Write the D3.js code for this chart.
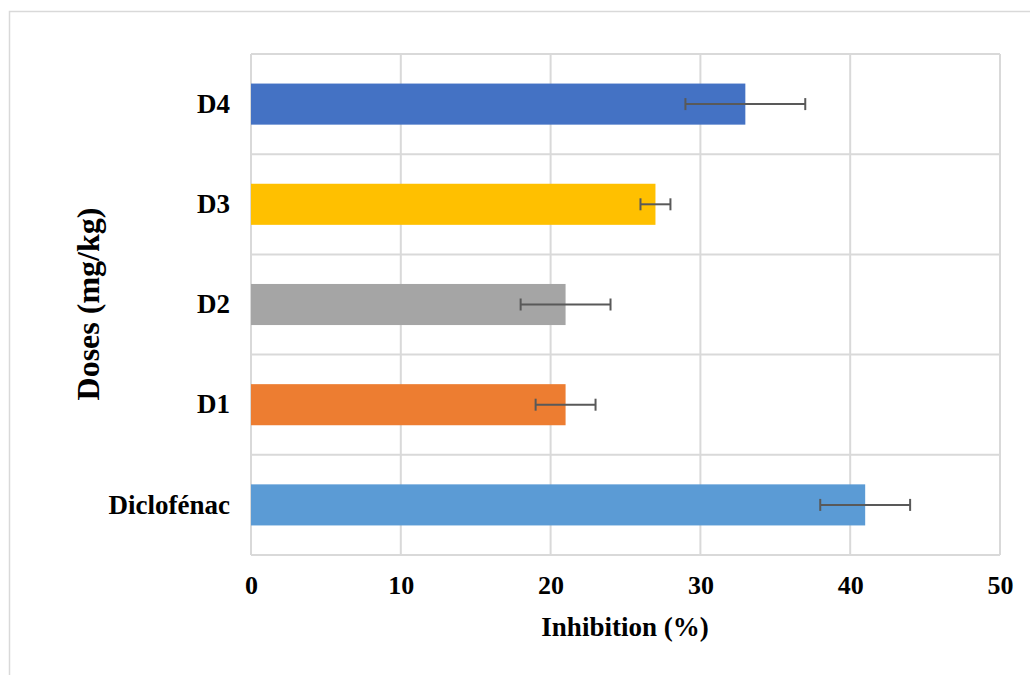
<!DOCTYPE html>
<html><head><meta charset="utf-8">
<script src="https://cdn.jsdelivr.net/npm/d3@7"></script>
<style>body{margin:0;background:#fff}svg{display:block}</style>
</head><body>
<script>
const categories = ["Diclofénac", "D1", "D2", "D3", "D4"];
const values = [41, 21, 21, 27, 33];
const errors = [3, 2, 3, 1, 4];
const colors = ["#5B9BD5", "#ED7D31", "#A5A5A5", "#FFC000", "#4472C4"];
const xTicks = [0, 10, 20, 30, 40, 50];

const W = 1030, H = 675;
const svg = d3.select("body").append("svg").attr("width", W).attr("height", H);
svg.append("rect").attr("x", 9.5).attr("y", 11.5).attr("width", 1030).attr("height", 680)
  .attr("fill", "#fff").attr("stroke", "#d9d9d9").attr("stroke-width", 1.5);

const L = 251, R = 1000, T = 54, B = 555;
const x = d3.scaleLinear().domain([0, 50]).range([L, R]);
const y = d3.scaleBand().domain(categories.slice().reverse()).range([T, B]).paddingInner(0.59).paddingOuter(0.295);

const g = svg.append("g");
g.selectAll("line.vg").data(xTicks).join("line")
  .attr("x1", d => x(d)).attr("x2", d => x(d)).attr("y1", T).attr("y2", B)
  .attr("stroke", "#d9d9d9").attr("stroke-width", 2);
const step = (B - T) / categories.length;
g.selectAll("line.hg").data(d3.range(categories.length + 1)).join("line")
  .attr("x1", L).attr("x2", R).attr("y1", d => T + d * step).attr("y2", d => T + d * step)
  .attr("stroke", "#d9d9d9").attr("stroke-width", 2);

const data = categories.map((c, i) => ({c, v: values[i], e: errors[i], col: colors[i]}));
g.selectAll("rect.bar").data(data).join("rect")
  .attr("x", x(0)).attr("y", d => y(d.c)).attr("width", d => x(d.v) - x(0)).attr("height", y.bandwidth())
  .attr("fill", d => d.col);

const eb = g.selectAll("g.eb").data(data).join("g").attr("stroke", "#595959").attr("stroke-width", 2);
eb.append("line").attr("x1", d => x(d.v - d.e)).attr("x2", d => x(d.v + d.e))
  .attr("y1", d => y(d.c) + y.bandwidth() / 2).attr("y2", d => y(d.c) + y.bandwidth() / 2);
eb.append("line").attr("x1", d => x(d.v - d.e)).attr("x2", d => x(d.v - d.e))
  .attr("y1", d => y(d.c) + y.bandwidth() / 2 - 6).attr("y2", d => y(d.c) + y.bandwidth() / 2 + 6);
eb.append("line").attr("x1", d => x(d.v + d.e)).attr("x2", d => x(d.v + d.e))
  .attr("y1", d => y(d.c) + y.bandwidth() / 2 - 6).attr("y2", d => y(d.c) + y.bandwidth() / 2 + 6);

const font = "'Liberation Serif', 'Times New Roman', serif";
const xa = svg.append("g").attr("transform", `translate(0,${B})`)
  .call(d3.axisBottom(x).tickValues(xTicks).tickSize(0).tickPadding(21));
xa.select(".domain").remove();
xa.selectAll("text").attr("font-family", font).attr("font-weight", "bold").attr("font-size", 26).attr("fill", "#000");
const ya = svg.append("g").attr("transform", `translate(${L},0)`)
  .call(d3.axisLeft(y).tickSize(0).tickPadding(21));
ya.select(".domain").remove();
ya.selectAll("text").attr("font-family", font).attr("font-weight", "bold").attr("font-size", 27).attr("fill", "#000");

svg.append("text").attr("x", 625).attr("y", 636).attr("text-anchor", "middle")
  .attr("font-family", font).attr("font-weight", "bold").attr("font-size", 27).text("Inhibition (%)");
svg.append("text").attr("transform", "translate(99,304) rotate(-90)").attr("text-anchor", "middle")
  .attr("font-family", font).attr("font-weight", "bold").attr("font-size", 32).text("Doses (mg/kg)");
</script>
</body></html>
